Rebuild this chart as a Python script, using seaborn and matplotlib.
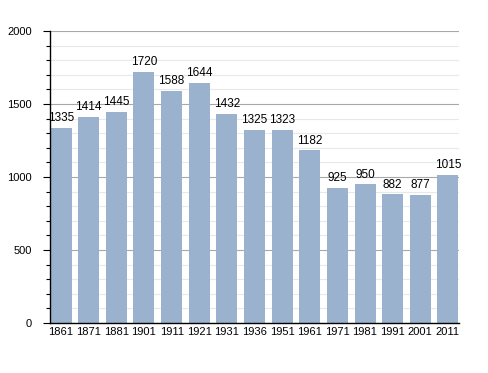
import matplotlib
matplotlib.use("Agg")
import matplotlib.pyplot as plt
from matplotlib.ticker import MultipleLocator
import pandas as pd
import seaborn as sns

# Census years and population
years = ["1861", "1871", "1881", "1901", "1911", "1921", "1931", "1936",
         "1951", "1961", "1971", "1981", "1991", "2001", "2011"]
population = [1335, 1414, 1445, 1720, 1588, 1644, 1432, 1325,
              1323, 1182, 925, 950, 882, 877, 1015]

df = pd.DataFrame({"year": years, "pop": population})

sns.set_style("white")
plt.rcParams["font.family"] = ["Liberation Sans", "DejaVu Sans"]
plt.rcParams["text.color"] = "black"
plt.rcParams["xtick.color"] = "black"
plt.rcParams["ytick.color"] = "black"

fig = plt.figure(figsize=(4.88, 3.73), dpi=100)
ax = fig.add_axes([0.1025, 0.134, 0.838, 0.783])

# Grid lines: minor every 100, major every 500
ax.yaxis.set_major_locator(MultipleLocator(500))
ax.yaxis.set_minor_locator(MultipleLocator(100))
ax.grid(which="minor", axis="y", color="#e8e8e8", linewidth=0.8)
ax.grid(which="major", axis="y", color="#a8a8a8", linewidth=0.8)
ax.set_axisbelow(True)

sns.barplot(data=df, x="year", y="pop", color="#9ab2cd", saturation=1,
            width=0.76, linewidth=0, ax=ax)

for i, v in enumerate(population):
    ax.text(i, v + 25, str(v), ha="center", va="bottom", fontsize=8.5, color="black")

ax.set_ylim(0, 2000)
ax.set_xlim(-0.4, 14.4)
ax.set_xlabel("")
ax.set_ylabel("")

for s in ["top", "right"]:
    ax.spines[s].set_visible(False)
ax.spines["left"].set_color("black")
ax.spines["bottom"].set_color("black")
ax.spines["left"].set_linewidth(1)
ax.spines["bottom"].set_linewidth(1)

ax.tick_params(axis="y", which="major", length=5, width=0.8, labelsize=8, left=True, pad=8)
ax.tick_params(axis="y", which="minor", length=3, width=0.8, left=True)
ax.tick_params(axis="x", length=0, labelsize=8, pad=3)

fig.savefig("out.png", dpi=100)
